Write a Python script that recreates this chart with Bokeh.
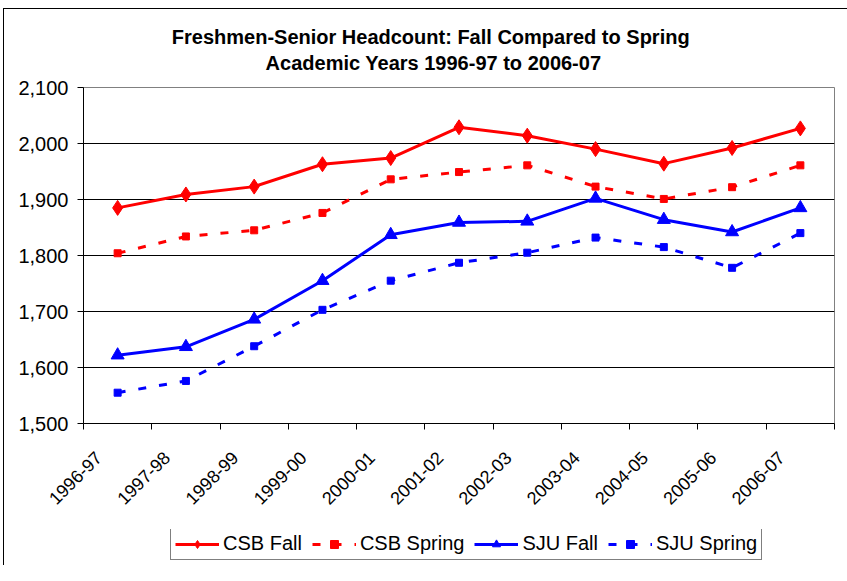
import math
from bokeh.plotting import figure
from bokeh.layouts import column
from bokeh.models import (Range1d, FixedTicker, NumeralTickFormatter, Legend,
                          LegendItem, Label)
from bokeh.embed import file_html
from bokeh.resources import INLINE

years = ["1996-97", "1997-98", "1998-99", "1999-00", "2000-01", "2001-02",
         "2002-03", "2003-04", "2004-05", "2005-06", "2006-07"]
csb_fall = [1885, 1909, 1923, 1963, 1974, 2029, 2014, 1990, 1964, 1992, 2027]
csb_spring = [1804, 1834, 1845, 1876, 1936, 1949, 1961, 1923, 1901, 1922, 1961]
sju_fall = [1622, 1637, 1686, 1755, 1837, 1859, 1861, 1902, 1864, 1842, 1885]
sju_spring = [1555, 1576, 1638, 1703, 1755, 1787, 1805, 1832, 1815, 1778, 1840]
y_ticks = [1500, 1600, 1700, 1800, 1900, 2000, 2100]
series_names = ["CSB Fall", "CSB Spring", "SJU Fall", "SJU Spring"]
title_lines = ["Freshmen-Senior Headcount:  Fall Compared to Spring",
               "Academic Years 1996-97 to 2006-07"]

FONT = "Liberation Sans"
RED = "#FF0000"
BLUE = "#0000FF"
DASH = "8 13"

x = [i + 0.5 for i in range(len(years))]
label_pos = [xi - 0.28 for xi in x]

# ---- title strip ----
tf = figure(width=844, height=66, output_backend="svg", toolbar_location=None,
            x_axis_type=None, y_axis_type=None, x_range=Range1d(0, 1),
            y_range=Range1d(0, 1), min_border=0)
tf.outline_line_color = None
tf.background_fill_color = "white"
tf.border_fill_color = "white"
tf.xgrid.grid_line_color = None
tf.ygrid.grid_line_color = None
for txt, ty in zip(title_lines, [39, 13]):
    tf.add_layout(Label(x=350, y=ty, x_units="screen", y_units="screen", text=txt,
                        text_font=FONT, text_font_size="20px",
                        text_font_style="bold", text_color="black",
                        text_align="center", text_baseline="middle"))

# ---- main chart ----
p = figure(frame_width=751, frame_height=336, output_backend="svg",
           toolbar_location=None,
           x_range=Range1d(0, len(years)), y_range=Range1d(y_ticks[0], y_ticks[-1]),
           min_border_left=79, min_border_right=14, min_border_top=12,
           min_border_bottom=106)
p.background_fill_color = "white"
p.border_fill_color = "white"
p.outline_line_color = "#808080"
p.outline_line_width = 1

p.xaxis.ticker = FixedTicker(ticks=label_pos, minor_ticks=list(range(len(years) + 1)))
p.xaxis.major_label_overrides = {xv: yr for xv, yr in zip(label_pos, years)}
p.xaxis.major_label_orientation = math.pi / 4
p.xaxis.major_tick_out = 0
p.xaxis.major_tick_in = 0
p.xaxis.minor_tick_out = 6
p.xaxis.minor_tick_in = 0
p.xaxis.minor_tick_line_color = "black"
p.xaxis.axis_line_color = "black"
p.xaxis.major_label_text_font = FONT
p.xaxis.major_label_text_font_size = "18px"
p.xaxis.major_label_text_color = "black"
p.xaxis.major_label_standoff = 25

p.yaxis.ticker = FixedTicker(ticks=y_ticks)
p.yaxis.formatter = NumeralTickFormatter(format="0,0")
p.yaxis.major_tick_out = 6
p.yaxis.major_tick_in = 0
p.yaxis.minor_tick_line_color = None
p.yaxis.major_tick_line_color = "black"
p.yaxis.axis_line_color = "black"
p.yaxis.major_label_text_font = FONT
p.yaxis.major_label_text_font_size = "20px"
p.yaxis.major_label_text_color = "black"
p.yaxis.major_label_standoff = 9

p.xgrid.grid_line_color = None
p.ygrid.grid_line_color = "black"
p.ygrid.grid_line_width = 1

series = [csb_fall, csb_spring, sju_fall, sju_spring]
styles = [(RED, None, "diamond", 15), (RED, DASH, "square", 7),
          (BLUE, None, "triangle", 13), (BLUE, DASH, "square", 7)]

for vals, (col, dash, mk, sz) in zip(series, styles):
    if dash:
        p.line(x, vals, line_color=col, line_width=3, line_dash=dash)
    else:
        p.line(x, vals, line_color=col, line_width=3)
    p.scatter(x, vals, marker=mk, size=sz, color=col)

# ---- legend strip (series drawn out of view; only the legend is visible) ----
lf = figure(width=844, height=36, output_backend="svg", toolbar_location=None,
            x_axis_type=None, y_axis_type=None, x_range=Range1d(0, 1),
            y_range=Range1d(0, 1), min_border=0)
lf.outline_line_color = None
lf.background_fill_color = "white"
lf.border_fill_color = "white"
lf.xgrid.grid_line_color = None
lf.ygrid.grid_line_color = None

items = []
for name, vals, (col, dash, mk, sz) in zip(series_names, series, styles):
    if dash:
        lr = lf.line(x, vals, line_color=col, line_width=3, line_dash=dash)
    else:
        lr = lf.line(x, vals, line_color=col, line_width=3)
    mr = lf.scatter(x, vals, marker=mk, size=sz, color=col)
    items.append(LegendItem(label=name, renderers=[lr, mr]))

legend = Legend(items=items, orientation="horizontal", location=(87, 5))
legend.label_text_font = FONT
legend.label_text_font_size = "20px"
legend.label_text_color = "black"
legend.glyph_width = 44
legend.label_standoff = 4
legend.spacing = 10
legend.padding = 4
legend.margin = 0
legend.border_line_color = "black"
legend.border_line_width = 1
legend.background_fill_color = "white"
legend.background_fill_alpha = 1
lf.add_layout(legend, "center")

layout = column(tf, p, lf, spacing=0)
layout.styles = {"border-left": "1px solid black", "border-top": "1px solid black",
                 "margin-left": "3px", "margin-top": "8px"}

open("out.html", "w").write(file_html(layout, INLINE))
